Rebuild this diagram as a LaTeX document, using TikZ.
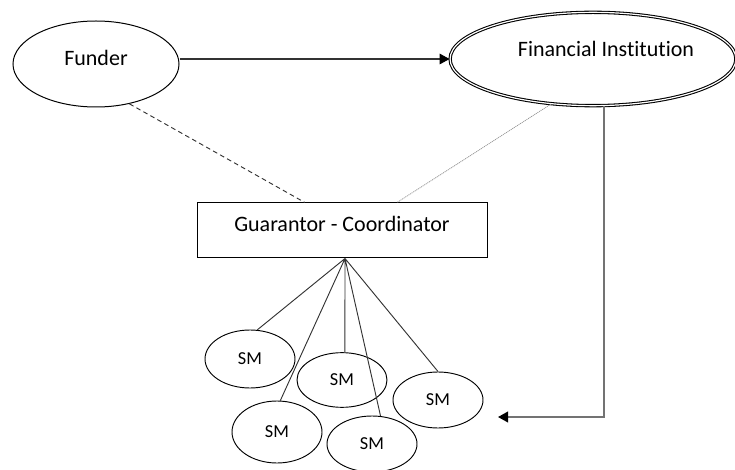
\documentclass[tikz,border=0pt]{standalone}
\usepackage{fontspec}
\setmainfont{Carlito}[Ligatures=NoCommon]
\usetikzlibrary{shapes.geometric,arrows.meta}

\begin{document}
\begin{tikzpicture}[x=0.75pt,y=-0.75pt,
		party/.style={shape=ellipse, draw, line width=0.75pt, inner sep=0pt, font=\fontsize{16.5}{19}\selectfont},
		sm/.style={shape=ellipse, draw, line width=0.7pt, inner sep=0pt, minimum width=67.5pt, minimum height=43.5pt, font=\fontsize{13.7}{16}\selectfont},
		link/.style={line width=0.7pt, draw=black!80},
		tip/.style={-{Triangle[length=7.5pt,width=8pt,color=black]}}]
			\useasboundingbox (0,0) rectangle (735,470);
			\coordinate (funderpos) at (96,64);
			\coordinate (finpos) at (593,59);
			\coordinate (guarpos) at (342,230.5);
			\coordinate (sm1pos) at (250,359);
			\coordinate (sm2pos) at (342,380);
			\coordinate (sm3pos) at (438,400);
			\coordinate (sm4pos) at (277,432);
			\coordinate (sm5pos) at (372,444);
			\coordinate (back) at (498,417);
			\draw node (funder) at (funderpos) [party, minimum width=124.5pt, minimum height=64.5pt, text height=8pt, text depth=5.75pt] {Funder}
				node (fin) at (finpos) [party, double, line width=0.8pt, double distance=0.9pt, minimum width=206pt, minimum height=70pt, text height=6pt, text depth=9pt] {\hspace*{19.5pt}Financial Institution}
				node (guar) at (guarpos) [draw, line width=0.75pt, inner sep=0pt, minimum width=217.5pt, minimum height=41.25pt, text height=8pt, text depth=5.75pt, font=\fontsize{16.5}{19}\selectfont] {Guarantor - Coordinator};
			\draw node (sm1) at (sm1pos) [sm] {SM}
				node (sm2) at (sm2pos) [sm, minimum height=41pt] {SM}
				node (sm3) at (sm3pos) [sm, minimum height=42pt] {SM}
				node (sm4) at (sm4pos) [sm, minimum height=46.5pt] {SM}
				node (sm5) at (sm5pos) [sm, minimum height=42pt] {SM};
			\coordinate (hub) at ([xshift=2.25pt]guar.south);
			% links between the parties
			\draw [link, line width=0.9pt, tip] (funder.east |- fin.west) -- (fin.west);
			\draw [link, dash pattern=on 3.5pt off 2.5pt] (funder.-50) -- (guar.143);
			\draw [draw=black!40, line width=0.6pt, dash pattern=on 0.8pt off 0.6pt] (fin.227) -- (guar.27);
			\draw [draw=black!55, line width=1.2pt, tip] (fin.-77) |- (back);
			% fan out to the small members
			\draw [link] (hub) -- (sm1.76) (hub) -- (sm4.84) (hub) -- (sm2.84) (hub) -- (sm5.73) (hub) -- (sm3.north);
		\end{tikzpicture}
\end{document}
